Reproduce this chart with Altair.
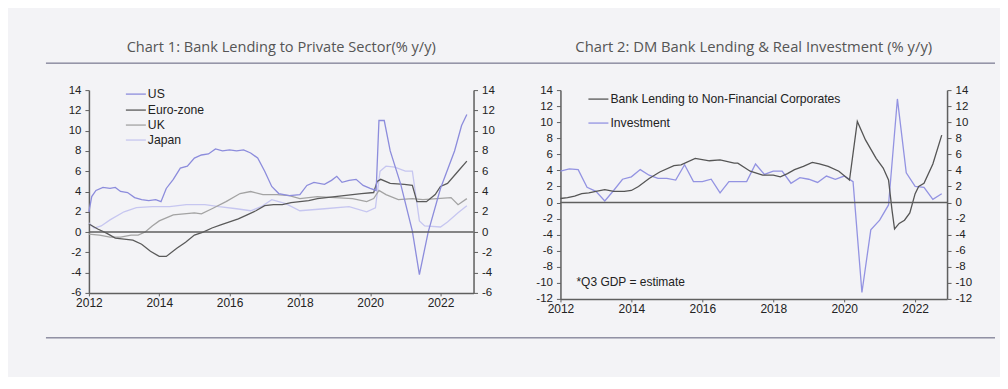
import altair as alt
import pandas as pd

# ---------------- Chart 1: Bank lending to private sector (% y/y) ----------------
us_x = [2012.00, 2012.08, 2012.20, 2012.40, 2012.60, 2012.75, 2012.90, 2013.10, 2013.30, 2013.50,
        2013.70, 2013.90, 2014.05, 2014.20, 2014.40, 2014.60, 2014.80, 2015.00, 2015.20, 2015.40,
        2015.60, 2015.80, 2016.00, 2016.20, 2016.40, 2016.60, 2016.80, 2017.00, 2017.20, 2017.40,
        2017.70, 2018.00, 2018.20, 2018.40, 2018.70, 2018.90, 2019.05, 2019.20, 2019.40, 2019.60,
        2019.80, 2020.00, 2020.17, 2020.25, 2020.40, 2020.57, 2020.87, 2021.20, 2021.40, 2021.65,
        2022.00, 2022.40, 2022.60, 2022.75]
us_y = [2.0, 3.5, 4.1, 4.4, 4.3, 4.4, 4.0, 3.9, 3.4, 3.2,
        3.1, 3.2, 3.0, 4.3, 5.2, 6.3, 6.5, 7.3, 7.6, 7.7,
        8.2, 8.0, 8.1, 8.0, 8.1, 7.8, 7.3, 6.0, 4.5, 3.8,
        3.6, 3.7, 4.6, 4.9, 4.7, 5.1, 5.5, 4.9, 5.1, 5.2,
        4.6, 4.3, 4.1, 11.0, 11.0, 8.0, 4.7, 0.1, -4.2, 0.0,
        4.3, 8.0, 10.5, 11.6]

eu_x = [2012.00, 2012.25, 2012.50, 2012.75, 2013.00, 2013.25, 2013.50, 2013.75, 2014.00, 2014.20,
        2014.50, 2014.75, 2015.00, 2015.25, 2015.50, 2015.75, 2016.00, 2016.25, 2016.50, 2016.75,
        2017.00, 2017.25, 2017.50, 2017.75, 2018.00, 2018.25, 2018.50, 2018.75, 2019.00, 2019.25,
        2019.50, 2019.75, 2020.10, 2020.20, 2020.30, 2020.57, 2020.97, 2021.20, 2021.33, 2021.60,
        2021.85, 2022.00, 2022.20, 2022.50, 2022.75]
eu_y = [0.8, 0.3, -0.1, -0.6, -0.7, -0.8, -1.2, -1.9, -2.4, -2.4,
        -1.6, -1.0, -0.3, 0.0, 0.4, 0.7, 1.0, 1.3, 1.7, 2.1,
        2.6, 2.7, 2.7, 2.9, 3.0, 3.1, 3.3, 3.4, 3.5, 3.6,
        3.7, 3.8, 3.9, 5.0, 5.2, 4.8, 4.7, 4.6, 3.0, 3.0,
        3.7, 4.5, 4.8, 6.0, 7.0]

uk_x = [2012.00, 2012.30, 2012.60, 2012.90, 2013.20, 2013.40, 2013.60, 2013.80, 2014.00, 2014.40,
        2014.70, 2015.00, 2015.20, 2015.50, 2015.90, 2016.30, 2016.60, 2016.95, 2017.35, 2017.70,
        2018.00, 2018.50, 2019.00, 2019.50, 2019.90, 2020.10, 2020.25, 2020.45, 2020.80, 2021.20,
        2021.50, 2021.90, 2022.30, 2022.50, 2022.75]
uk_y = [-0.2, -0.3, -0.5, -0.5, -0.3, -0.3, 0.0, 0.6, 1.1, 1.7,
        1.8, 1.9, 1.8, 2.3, 3.0, 3.8, 4.0, 3.7, 3.7, 3.6,
        3.3, 3.5, 3.4, 3.3, 3.0, 3.3, 4.1, 3.7, 3.2, 3.3,
        3.2, 3.3, 3.4, 2.7, 3.3]

jp_x = [2012.00, 2012.15, 2012.35, 2012.60, 2013.00, 2013.35, 2013.80, 2014.30, 2014.77, 2015.30,
        2015.70, 2016.20, 2016.60, 2016.90, 2017.20, 2017.60, 2018.00, 2018.70, 2019.40, 2019.90,
        2020.15, 2020.28, 2020.45, 2020.70, 2021.00, 2021.20, 2021.40, 2021.55, 2022.00, 2022.20,
        2022.50, 2022.75]
jp_y = [0.9, 0.4, 0.6, 1.2, 2.0, 2.4, 2.5, 2.5, 2.7, 2.7,
        2.5, 2.3, 2.1, 2.5, 3.2, 2.8, 2.1, 2.3, 2.5, 2.0,
        2.4, 6.0, 6.5, 6.4, 6.0, 6.0, 1.1, 0.6, 0.5, 1.0,
        1.9, 2.6]

c1_names = ["US", "Euro-zone", "UK", "Japan"]
c1_colors = ["#8c8cdc", "#5a5a5a", "#a3a3a3", "#c6c6f0"]
c1_title = "Chart 1: Bank Lending to Private Sector(% y/y)"

# ---------------- Chart 2: DM bank lending & real investment (% y/y) ----------------
bl_x = [2012.00, 2012.20, 2012.40, 2012.60, 2012.80, 2013.00, 2013.25, 2013.50, 2013.80, 2014.00,
        2014.20, 2014.50, 2014.80, 2015.20, 2015.40, 2015.80, 2016.20, 2016.50, 2016.90, 2017.00,
        2017.35, 2017.70, 2018.00, 2018.20, 2018.40, 2018.60, 2018.85, 2019.10, 2019.30, 2019.55,
        2019.85, 2020.15, 2020.37, 2020.60, 2020.90, 2021.10, 2021.25, 2021.35, 2021.42, 2021.55,
        2021.70, 2021.85, 2022.00, 2022.10, 2022.25, 2022.50, 2022.75]
bl_y = [0.5, 0.6, 0.8, 1.1, 1.2, 1.4, 1.6, 1.4, 1.4, 1.5,
        2.0, 3.0, 3.8, 4.6, 4.7, 5.5, 5.2, 5.3, 4.9, 4.9,
        3.9, 3.4, 3.4, 3.2, 3.6, 4.1, 4.5, 5.0, 4.8, 4.5,
        3.9, 2.8, 10.1, 7.8, 5.5, 4.3, 2.8, -1.0, -3.3, -2.6,
        -2.2, -1.3, 1.1, 2.0, 2.4, 4.8, 8.4]

inv_x = [2012.00, 2012.25, 2012.50, 2012.75, 2013.00, 2013.25, 2013.50, 2013.75, 2014.00, 2014.25,
         2014.50, 2014.75, 2015.00, 2015.25, 2015.50, 2015.75, 2016.00, 2016.25, 2016.50, 2016.75,
         2017.00, 2017.25, 2017.50, 2017.75, 2018.00, 2018.25, 2018.50, 2018.75, 2019.00, 2019.25,
         2019.50, 2019.75, 2020.00, 2020.25, 2020.50, 2020.75, 2021.00, 2021.25, 2021.50, 2021.75,
         2022.00, 2022.25, 2022.50, 2022.75]
inv_y = [3.9, 4.2, 4.1, 1.9, 1.4, 0.2, 1.5, 2.9, 3.2, 4.1,
         3.4, 3.0, 3.0, 2.8, 4.7, 2.6, 2.6, 2.9, 1.2, 2.6,
         2.6, 2.6, 4.8, 3.5, 3.9, 3.9, 2.4, 3.1, 2.9, 2.5,
         3.3, 2.9, 3.3, 2.6, -11.2, -3.4, -2.2, -0.3, 12.9, 3.7,
         2.0, 1.9, 0.4, 1.1]

c2_names = ["Bank Lending to Non-Financial Corporates", "Investment"]
c2_colors = ["#555555", "#9393e2"]
c2_title = "Chart 2: DM Bank Lending & Real Investment (% y/y)"
c2_note = "*Q3 GDP = estimate"

x_ticks = [2012, 2014, 2016, 2018, 2020, 2022]
y1_ticks = [-6, -4, -2, 0, 2, 4, 6, 8, 10, 12, 14]
y2_ticks = [-12, -10, -8, -6, -4, -2, 0, 2, 4, 6, 8, 10, 12, 14]

# ---------------- styling ----------------
BG = "#f3f3f6"
FONT = "Liberation Sans"
AXC = "#5f5f5f"
LBL = "#222222"
ONE = pd.DataFrame({"a": [0]})


def xenc(domain):
    return alt.X("year:Q",
                 scale=alt.Scale(domain=domain, nice=False, zero=False),
                 axis=alt.Axis(values=x_ticks, labelExpr="'' + datum.value", title=None, grid=False,
                               domainColor=AXC, domainWidth=1.5, tickColor=AXC, tickSize=3,
                               labelFont=FONT, labelFontSize=12, labelColor=LBL, labelPadding=2,
                               labelFlush=False))


def yaxis(ticks, orient):
    return alt.Axis(values=ticks, labelExpr="'' + datum.value", title=None, grid=False,
                    orient=orient, domainColor=AXC, domainWidth=1.5, tickColor=AXC, tickSize=4,
                    labelFont=FONT, labelFontSize=11.5, labelColor=LBL, labelPadding=4,
                    labelFlush=False)


def panel(series, names, colors, xdom, ydom, yticks, w, h, legend_y, legend_x, title,
          title_size, extras):
    yscale = alt.Scale(domain=ydom, nice=False, zero=False)
    lines = []
    for (xs, ys), col in zip(series, colors):
        df = pd.DataFrame({"year": xs, "value": ys})
        lines.append(alt.Chart(df).mark_line(color=col, strokeWidth=1.3).encode(
            x=xenc(xdom),
            y=alt.Y("value:Q", scale=yscale, axis=yaxis(yticks, "left"))))
    lines_layer = alt.layer(*lines[::-1])
    zero = alt.Chart(pd.DataFrame({"z": [0]})).mark_rule(color=AXC, strokeWidth=1.5).encode(
        y=alt.Y("z:Q", scale=yscale, axis=yaxis(yticks, "right")))
    layers = [lines_layer, zero]
    # custom legend
    for i, (nm, col) in enumerate(zip(names, colors)):
        ly = legend_y[i]
        layers.append(alt.Chart(ONE).mark_rule(color=col, strokeWidth=1.3).encode(
            x=alt.value(legend_x), x2=alt.value(legend_x + 20), y=alt.value(ly)))
        layers.append(alt.Chart(ONE).mark_text(text=nm, font=FONT, fontSize=12.2, color=LBL,
                                               align="left", baseline="middle").encode(
            x=alt.value(legend_x + 22), y=alt.value(ly)))
    # title
    layers.append(alt.Chart(ONE).mark_text(text=title, font="Open Sans", fontSize=title_size,
                                           color="#555555", align="center",
                                           baseline="middle").encode(
        x=alt.value(w / 2), y=alt.value(-42)))
    layers.extend(extras)
    return alt.layer(*layers).resolve_scale(y="independent").properties(width=w, height=h)


W1, H1 = 385, 203
W2, H2 = 387, 209

extras1 = [
    # invisible anchor fixing the top-left of the layout
    alt.Chart(ONE).mark_rule(color=BG, strokeWidth=1).encode(
        x=alt.value(-43), x2=alt.value(-42), y=alt.value(-73)),
    # separator lines
    alt.Chart(ONE).mark_rule(color="#5c5c78", strokeWidth=1).encode(
        x=alt.value(-43), x2=alt.value(907), y=alt.value(-27)),
    alt.Chart(ONE).mark_rule(color="#5c5c78", strokeWidth=1).encode(
        x=alt.value(-43), x2=alt.value(907), y=alt.value(248)),
]
extras2 = [
    alt.Chart(ONE).mark_text(text=c2_note, font=FONT, fontSize=12, color=LBL,
                             align="left", baseline="middle").encode(
        x=alt.value(16), y=alt.value(192)),
]

p1 = panel([(us_x, us_y), (eu_x, eu_y), (uk_x, uk_y), (jp_x, jp_y)], c1_names, c1_colors,
           [2012, 2022.94], [-6, 14], y1_ticks, W1, H1, [4, 20, 35, 50], 37, c1_title, 14.6,
           extras1)
p2 = panel([(bl_x, bl_y), (inv_x, inv_y)], c2_names, c2_colors,
           [2012, 2022.9], [-12, 14], y2_ticks, W2, H2, [9, 33], 28, c2_title, 14.8, extras2)

chart = alt.hconcat(p1, p2, spacing=87, bounds="flush").properties(
    background=BG,
    padding={"left": 37, "top": 8, "right": 4, "bottom": 38},
).configure_view(stroke=None)

chart.save("out.html", embed_options={"renderer": "svg", "actions": False})
